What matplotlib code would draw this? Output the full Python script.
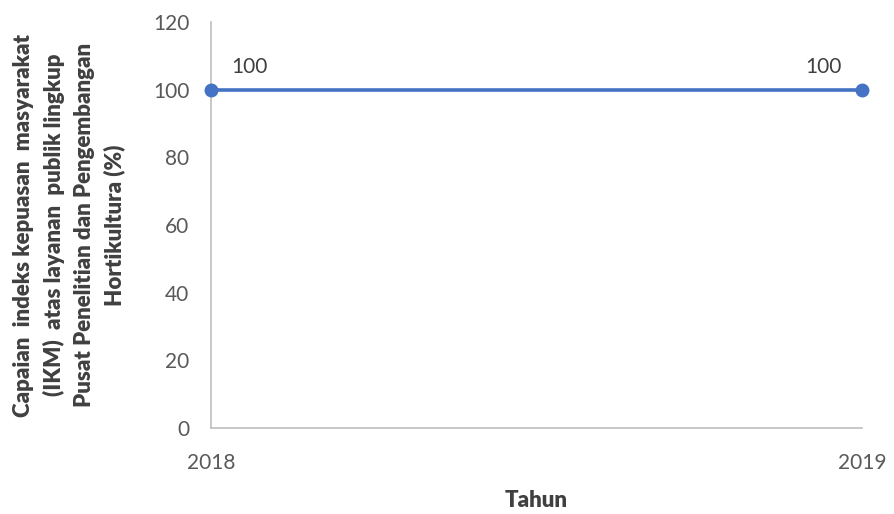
import matplotlib.pyplot as plt

plt.rcParams['font.family'] = ['Lato', 'DejaVu Sans']

# data
tahun = [2018, 2019]
capaian = [100, 100]
label_offsets = [(28, 16.5), (-28, 16.5)]

fig = plt.figure(figsize=(8.95, 5.14), dpi=100)
ax = fig.add_axes([0.2358, 0.1673, 0.7274, 0.7897])

ax.plot(tahun, capaian, color='#4472C4', linewidth=2.6, marker='o',
        markersize=9, zorder=3, clip_on=False)

for x, y, off in zip(tahun, capaian, label_offsets):
    ax.annotate(str(y), (x, y), xytext=off, textcoords='offset points',
                ha='center', va='center', fontsize=15, color='#404040')

ax.set_xlim(2018, 2019)
ax.set_ylim(0, 120)
ax.set_yticks(range(0, 121, 20))
ax.set_xticks(tahun)
ax.set_xticklabels([str(t) for t in tahun])

for side in ['top', 'right']:
    ax.spines[side].set_visible(False)
for side in ['left', 'bottom']:
    ax.spines[side].set_color('#BFBFBF')
    ax.spines[side].set_linewidth(1.2)

ax.tick_params(axis='both', length=0, labelsize=15, labelcolor='#595959')
ax.tick_params(axis='y', pad=15.5)
ax.tick_params(axis='x', pad=18)

ax.set_ylabel('Capaian  indeks kepuasan  masyarakat\n(IKM)  atas layanan  publik lingkup\n'
              'Pusat Penelitian dan Pengembangan\nHortikultura (%)',
              fontsize=16, fontweight='heavy', color='#404040', linespacing=1.5,
              labelpad=20)
ax.set_xlabel('Tahun', fontsize=16, fontweight='heavy', color='#404040', labelpad=12)

fig.savefig('out.png', dpi=100)
